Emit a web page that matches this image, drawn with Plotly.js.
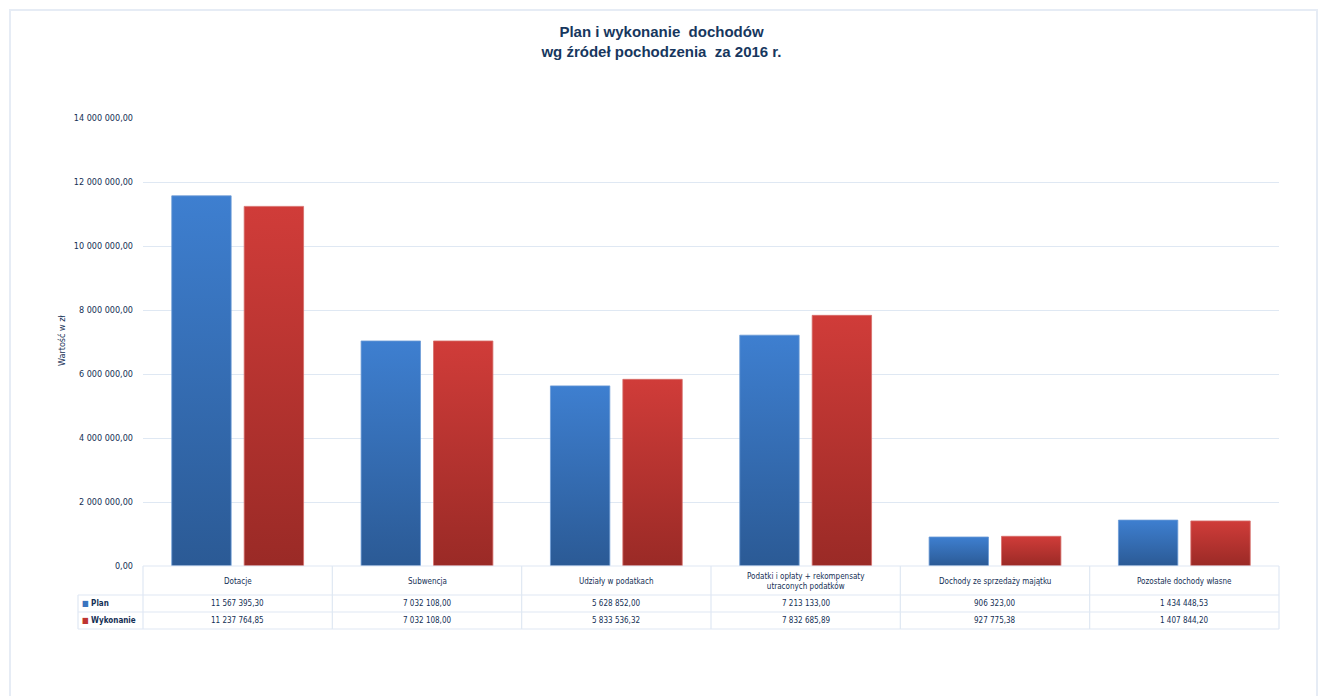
<!DOCTYPE html>
<html>
<head>
<meta charset="utf-8">
<script src="https://cdn.plot.ly/plotly-3.0.1.min.js"></script>
<style>
html,body{margin:0;padding:0;background:#fff;}
#chart{width:1323px;height:696px;}
</style>
</head>
<body>
<div id="chart"></div>
<script>
// ---- data ----
const categories = [
  "Dotacje",
  "Subwencja",
  "Udziały w podatkach",
  "Podatki i opłaty + rekompensaty utraconych podatków",
  "Dochody ze sprzedaży majątku",
  "Pozostałe dochody własne"
];
const categoryLabels = [
  "Dotacje",
  "Subwencja",
  "Udziały w podatkach",
  "Podatki i opłaty + rekompensaty<br>utraconych podatków",
  "Dochody ze sprzedaży majątku",
  "Pozostałe dochody własne"
];
const planValues = [11567395.30, 7032108.00, 5628852.00, 7213133.00, 906323.00, 1434448.53];
const wykonanieValues = [11237764.85, 7032108.00, 5833536.32, 7832685.89, 927775.38, 1407844.20];
const seriesNames = ["Plan", "Wykonanie"];
const titleText = "Plan i wykonanie  dochodów<br>wg źródeł pochodzenia  za 2016 r.";
const yTitle = "Wartość w zł";

// ---- layout helpers (pixel -> paper) ----
const W = 1323, H = 696;
const L = 143, R = 1279, T = 118, B = 566;
const px = x => (x - L) / (R - L);
const py = y => (B - y) / (B - T);

function fmt(v){
  const parts = v.toFixed(2).split(".");
  const intPart = parts[0].replace(/\B(?=(\d{3})+(?!\d))/g, " ");
  return intPart + "," + parts[1];
}

const blue = "#3a74bf", red = "#bf3431";
const textColor = "#142f55";
const gridColor = "#dfe8f3";
const fontFam = "'Liberation Sans Narrow','DejaVu Sans Condensed','Liberation Sans',sans-serif";

const traces = [
  {type:"bar", name:seriesNames[0], x:categories, y:planValues,
   marker:{color:blue, line:{color:"#6b9ad6", width:0.8}}, hoverinfo:"y"},
  {type:"bar", name:seriesNames[1], x:categories, y:wykonanieValues,
   marker:{color:red, line:{color:"#d66d6a", width:0.8}}, hoverinfo:"y"}
];

const shapes = [];
const lineStyle = {color:gridColor, width:1.2};
// outer frame
shapes.push({type:"rect", xref:"paper", yref:"paper", x0:px(10), x1:px(1317), y0:py(720), y1:py(10), line:{color:"#e6ecf5", width:2}, fillcolor:"rgba(0,0,0,0)", layer:"below"});
// table horizontal lines
shapes.push({type:"line", xref:"paper", yref:"paper", x0:px(L), x1:px(R), y0:py(566), y1:py(566), line:lineStyle});
[595, 612, 629].forEach(yy => shapes.push({type:"line", xref:"paper", yref:"paper", x0:px(78), x1:px(R), y0:py(yy), y1:py(yy), line:lineStyle}));
// table vertical lines
shapes.push({type:"line", xref:"paper", yref:"paper", x0:px(78), x1:px(78), y0:py(595), y1:py(629), line:lineStyle});
for (let i = 0; i <= categories.length; i++){
  const xx = L + i * (R - L) / categories.length;
  shapes.push({type:"line", xref:"paper", yref:"paper", x0:px(xx), x1:px(xx), y0:py(566), y1:py(629), line:lineStyle});
}

const annotations = [];
const tf = {family:fontFam, size:8, color:textColor};
categories.forEach((c, i) => {
  annotations.push({xref:"x", yref:"paper", x:c, y:py(581), text:categoryLabels[i], showarrow:false, font:tf, xanchor:"center", yanchor:"middle"});
  annotations.push({xref:"x", yref:"paper", x:c, y:py(603.5), text:fmt(planValues[i]), showarrow:false, font:tf, xanchor:"center", yanchor:"middle"});
  annotations.push({xref:"x", yref:"paper", x:c, y:py(620.5), text:fmt(wykonanieValues[i]), showarrow:false, font:tf, xanchor:"center", yanchor:"middle"});
});
annotations.push({xref:"paper", yref:"paper", x:px(80), y:py(603.5), text:'<span style="color:'+blue+'">■</span> <b>'+seriesNames[0]+'</b>', showarrow:false, font:tf, xanchor:"left", yanchor:"middle"});
annotations.push({xref:"paper", yref:"paper", x:px(80), y:py(620.5), text:'<span style="color:'+red+'">■</span> <b>'+seriesNames[1]+'</b>', showarrow:false, font:tf, xanchor:"left", yanchor:"middle"});
annotations.push({xref:"paper", yref:"paper", x:px(62), y:py(340), text:yTitle, textangle:-90, showarrow:false, font:{family:fontFam, size:9, color:textColor}, xanchor:"center", yanchor:"middle"});

const layout = {
  width:W, height:H,
  margin:{l:L, r:W-R, t:T, b:H-B, pad:0},
  paper_bgcolor:"#ffffff", plot_bgcolor:"#ffffff",
  separators:", ",
  title:{text:titleText, x:0.5, xref:"container", y:1-37/H, yref:"container", xanchor:"center", yanchor:"middle",
         font:{family:"'Liberation Sans',sans-serif", size:15, color:"#17375e", weight:"bold"}},
  showlegend:false,
  barmode:"group", bargap:0.235, bargroupgap:0.18,
  xaxis:{showticklabels:false, ticks:"", showgrid:false, zeroline:false, showline:false, fixedrange:true},
  yaxis:{range:[0,14000000], dtick:2000000, tickformat:",.2f", gridcolor:gridColor, gridwidth:1,
         zeroline:false, showline:false, ticks:"", ticklabelstandoff:9,
         tickfont:{family:fontFam, size:9, color:textColor}, fixedrange:true},
  shapes:shapes,
  annotations:annotations
};

Plotly.newPlot("chart", traces, layout, {displayModeBar:false, staticPlot:true}).then(gd => {
  const svg = gd.querySelector("svg.main-svg");
  const ns = "http://www.w3.org/2000/svg";
  let defs = svg.querySelector("defs");
  if (!defs){ defs = document.createElementNS(ns, "defs"); svg.insertBefore(defs, svg.firstChild); }
  const grads = [["gradBlue","#3e7fd0","#2b5a95"],["gradRed","#d03c39","#9a2a26"]];
  grads.forEach(g => {
    const lg = document.createElementNS(ns, "linearGradient");
    lg.setAttribute("id", g[0]);
    lg.setAttribute("x1","0"); lg.setAttribute("y1","0"); lg.setAttribute("x2","0"); lg.setAttribute("y2","1");
    lg.setAttribute("gradientUnits","objectBoundingBox");
    [["0",g[1]],["1",g[2]]].forEach(s => {
      const st = document.createElementNS(ns, "stop");
      st.setAttribute("offset", s[0]); st.setAttribute("stop-color", s[1]);
      lg.appendChild(st);
    });
    defs.appendChild(lg);
  });
  const traceGroups = gd.querySelectorAll(".barlayer .trace.bars");
  traceGroups.forEach((tg, i) => {
    tg.querySelectorAll(".point path").forEach(p => { p.style.fill = "url(#" + grads[i][0] + ")"; });
  });
});
</script>
</body>
</html>
